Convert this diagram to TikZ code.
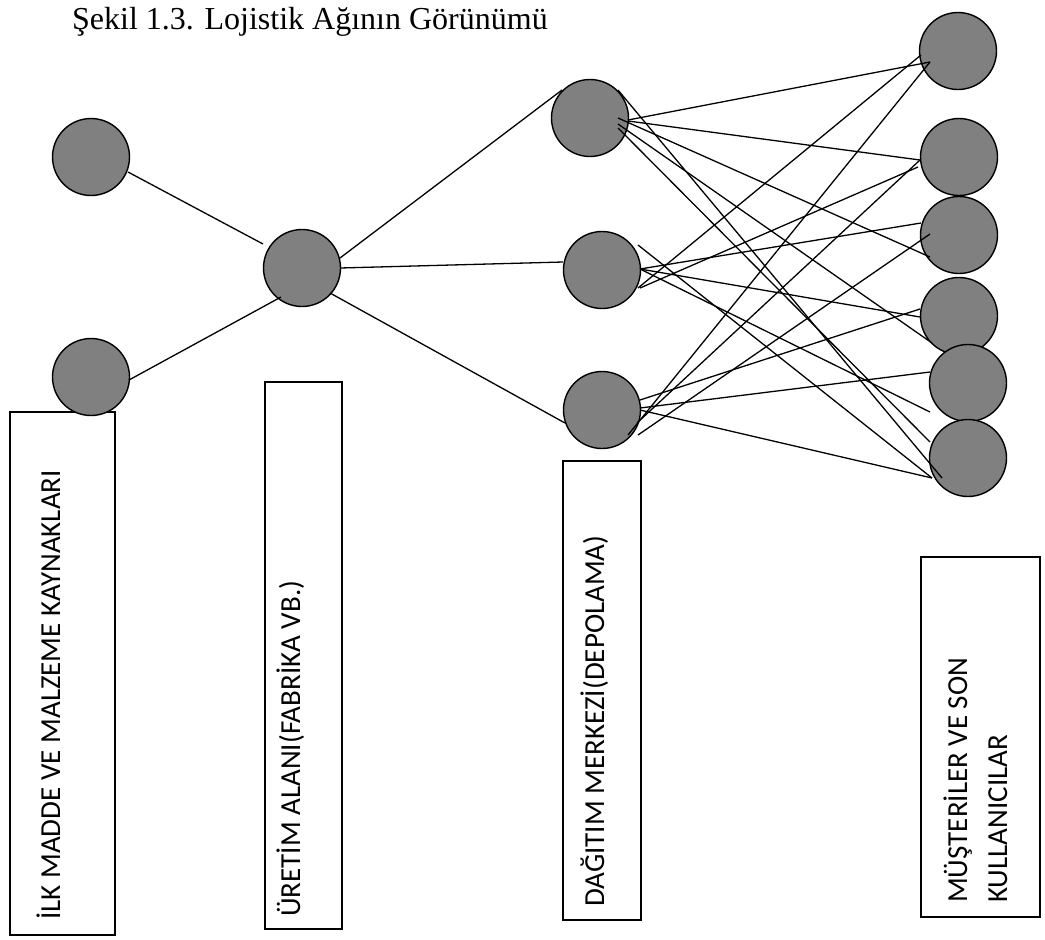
\documentclass[tikz,border=0pt]{standalone}
\usepackage{fontspec}
\setmainfont{Liberation Serif}
\newfontfamily\boxfont{Carlito}
\usetikzlibrary{calc}

\tikzset{
  site/.style={circle, draw=black, fill=gray, line width=1.4pt,
               minimum size=77pt, inner sep=0pt},
  framebox/.style={rectangle, draw=black, line width=1.4pt, fill=none, inner sep=0pt},
  boxlabel/.style={rotate=90, anchor=base west, inner sep=0pt,
                   font=\boxfont\fontsize{29}{35}\selectfont},
  link/.style={draw=black, line width=1.3pt},
}
% a connector between two nodes, each end shifted from the node centre
\newcommand\edgeline[4]{\path[link] ($(#1.center)+(#2)$) -- ($(#3.center)+(#4)$);}

\begin{document}
\begin{tikzpicture}[x=1pt, y=-1pt]
\useasboundingbox (0,0) rectangle (1045,940);

% title
\node[anchor=base west, inner sep=0pt, font=\fontsize{32}{38}\selectfont]
  (title) at (72,29) {Şekil 1.3. Lojistik Ağının Görünümü};

% label frames
\node[framebox, minimum width=105pt, minimum height=523pt] (box1) at (62.5,673.5) {};
\node[framebox, minimum width=77pt,  minimum height=547pt] (box2) at (303.5,655.5) {};
\node[framebox, minimum width=78pt,  minimum height=459pt] (box3) at (602,690.5) {};
\node[framebox, minimum width=119pt, minimum height=360pt] (box4) at (980.5,737) {};

\node[boxlabel] (lab1) at (60,920) {İLK MADDE VE MALZEME KAYNAKLARI};
\node[boxlabel] (lab2) at (300,917) {ÜRETİM ALANI(FABRİKA VB.)};
\node[boxlabel] (lab3) at (604,907) {DAĞITIM MERKEZİ(DEPOLAMA)};
\node[boxlabel] (lab4a) at (967,903) {MÜŞTERİLER VE SON};
\node[boxlabel] (lab4b) at (1007,903) {KULLANICILAR};

% sources, plant, depots
\node[site] (r1) at (91,157) {};
\node[site] (r2) at (91,377) {};
\node[site] (f)  at (302,268) {};
\node[site] (d1) at (590,118) {};
\node[site] (d2) at (602,270) {};
\node[site] (d3) at (602,410) {};

% customers
\node[site] (c1) at (958,51) {};
\node[site] (c2) at (959,157) {};
\node[site] (c3) at (959,235) {};
\node[site] (c4) at (959,316) {};
\node[site] (c5) at (968,383) {};
\node[site] (c6) at (968,458) {};

% sources -> plant -> depots
\edgeline{r1}{37,15}{f}{-39,-24}
\edgeline{r2}{38,3}{f}{-21,29}
\edgeline{f}{38,-10}{d1}{-28,-28}
\edgeline{f}{38,0}{d2}{-39,-8}
\edgeline{f}{28,25}{d3}{-37,13}

% depot 1 -> customers
\edgeline{d1}{38,2}{c1}{-28,11}
\edgeline{d1}{38,3}{c2}{-39,3}
\edgeline{d1}{28,0}{c3}{-29,22}
\edgeline{d1}{28,6}{c4}{-27,27}
\edgeline{d1}{28,10}{c6}{-38,-16}
\edgeline{d1}{28,-28}{c6}{-26,20}

% depot 2 -> customers
\edgeline{d2}{36,18}{c1}{-37,4}
\edgeline{d2}{38,18}{c2}{-41,10}
\edgeline{d2}{38,-1}{c3}{-38,-12}
\edgeline{d2}{38,-1}{c4}{-39,1}
\edgeline{d2}{38,-1}{c5}{-38,29}
\edgeline{d2}{36,-25}{c6}{-36,20}

% depot 3 -> customers
\edgeline{d3}{26,25}{c1}{-28,11}
\edgeline{d3}{35,13}{c2}{-39,3}
\edgeline{d3}{36,25}{c3}{-29,-1}
\edgeline{d3}{38,-10}{c4}{-39,-7}
\edgeline{d3}{38,-2}{c5}{-38,-11}
\edgeline{d3}{38,0}{c6}{-36,20}

\end{tikzpicture}
\end{document}
